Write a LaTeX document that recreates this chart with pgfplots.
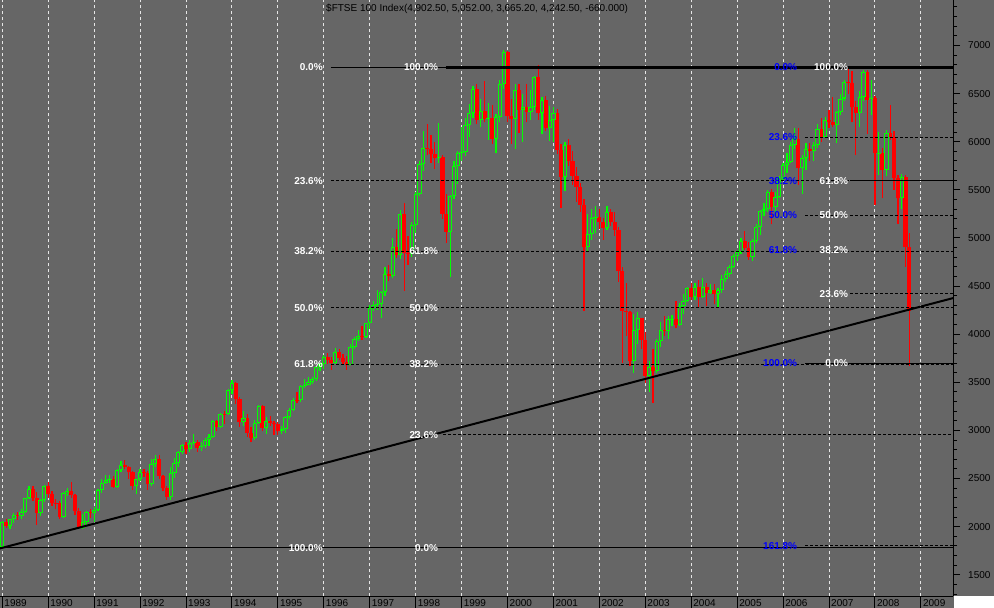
\documentclass[border=0pt]{standalone}
\usepackage{fontspec}
\setmainfont{Liberation Sans}
\usepackage{pgfplots}
\usepackage{pgfplotstable}
\pgfplotsset{compat=1.18}
\definecolor{bg}{RGB}{102,102,102}
\definecolor{upg}{RGB}{0,255,0}
\definecolor{dnr}{RGB}{255,0,0}
\definecolor{gridc}{RGB}{230,230,230}
\definecolor{fibblue}{RGB}{0,0,255}
\newcommand\lbl{\fontsize{10bp}{12bp}\selectfont}

\pgfplotstableread{
yr mo o h l c
1989 1 1793 2060 1782 2052
1989 3 2002 2080 1980 2075
1989 4 2075 2140 2040 2119
1989 6 2107 2180 2080 2152
1989 7 2152 2300 2140 2297
1989 8 2297 2426 2290 2388
1989 11 2142 2290 2110 2276
1989 12 2276 2430 2260 2423
1990 5 2103 2360 2090 2345
1990 6 2345 2400 2320 2375
1990 10 1990 2130 1978 2050
1990 11 2050 2160 2020 2149
1991 1 2144 2200 2050 2170
1991 2 2170 2390 2160 2381
1991 3 2381 2500 2350 2457
1991 4 2457 2540 2440 2487
1991 5 2487 2540 2450 2500
1991 7 2415 2600 2400 2588
1991 8 2588 2680 2570 2645
1991 12 2420 2500 2340 2493
1992 1 2493 2600 2470 2571
1992 4 2440 2700 2420 2654
1992 5 2654 2740 2620 2708
1992 9 2312 2620 2280 2553
1992 10 2553 2710 2510 2658
1992 11 2658 2790 2620 2778
1992 12 2778 2860 2750 2847
1993 2 2807 2900 2780 2868
1993 3 2868 2960 2850 2878
1993 5 2813 2880 2790 2840
1993 6 2840 2920 2820 2900
1993 7 2900 2960 2840 2927
1993 8 2927 3110 2920 3100
1993 10 3038 3180 3030 3171
1993 12 3166 3430 3160 3418
1994 1 3418 3520 3380 3491
1994 4 3086 3200 3050 3125
1994 7 2919 3110 2900 3082
1994 8 3082 3260 3070 3251
1994 10 3026 3140 2960 3097
1995 2 2992 3050 2960 3010
1995 3 3010 3150 2970 3137
1995 4 3137 3230 3120 3216
1995 5 3216 3340 3200 3320
1995 7 3315 3470 3300 3463
1995 8 3463 3530 3440 3477
1995 9 3477 3560 3470 3508
1995 10 3508 3560 3480 3530
1995 11 3530 3670 3510 3664
1995 12 3664 3700 3620 3689
1996 1 3689 3780 3640 3760
1996 4 3699 3860 3690 3818
1996 8 3681 3900 3680 3867
1996 9 3867 3970 3850 3953
1996 10 3953 4040 3930 3980
1996 12 3971 4120 3960 4119
1997 1 4119 4300 4050 4275
1997 2 4275 4350 4240 4308
1997 3 4308 4460 4250 4313
1997 4 4313 4450 4170 4437
1997 5 4437 4700 4400 4621
1997 7 4604 5000 4580 4907
1997 9 4818 5290 4780 5244
1997 12 4831 5170 4800 5136
1998 1 5136 5480 5050 5458
1998 2 5458 5800 5440 5767
1998 3 5767 6110 5700 5932
1998 7 5833 6190 5780 5837
1998 10 5064 5450 4599 5438
1998 11 5438 5800 5400 5743
1998 12 5743 5900 5560 5883
1999 1 5883 6150 5800 5896
1999 2 5896 6250 5850 6175
1999 3 6175 6390 6050 6296
1999 4 6296 6580 6250 6552
1999 6 6226 6440 6150 6318
1999 8 6231 6400 6020 6246
1999 10 6030 6290 5880 6255
1999 11 6255 6640 6200 6597
1999 12 6597 6950 6550 6930
2000 3 6233 6600 5920 6540
2000 5 6327 6500 6000 6359
2000 7 6313 6540 6230 6365
2000 8 6365 6680 6330 6673
2000 10 6294 6460 6080 6438
2000 12 6142 6370 6010 6222
2001 1 6222 6360 6000 6298
2001 4 5634 6000 5490 5967
2001 10 4903 5250 4860 5040
2001 11 5040 5300 4980 5204
2001 12 5204 5330 5050 5217
2002 3 5101 5330 5080 5272
2002 10 3722 4210 3600 4040
2002 11 4040 4230 3900 4169
2003 2 3567 3720 3400 3656
2003 4 3613 3950 3600 3926
2003 5 3926 4130 3870 4048
2003 7 4031 4190 3950 4157
2003 8 4157 4200 4080 4161
2003 10 4091 4320 4080 4288
2003 11 4288 4420 4210 4343
2003 12 4343 4490 4330 4477
2004 2 4390 4530 4360 4492
2004 4 4386 4580 4380 4489
2004 6 4431 4520 4420 4464
2004 8 4413 4480 4280 4459
2004 9 4459 4610 4430 4571
2004 10 4571 4660 4540 4624
2004 11 4624 4720 4590 4703
2004 12 4703 4830 4690 4814
2005 1 4814 4880 4760 4852
2005 2 4852 5000 4830 4968
2005 5 4801 4990 4760 4964
2005 6 4964 5140 4950 5113
2005 7 5113 5290 5030 5282
2005 8 5282 5360 5230 5297
2005 9 5297 5500 5270 5478
2005 11 5317 5480 5260 5423
2005 12 5423 5640 5410 5619
2006 1 5619 5780 5590 5760
2006 2 5760 5880 5680 5792
2006 3 5792 6000 5780 5965
2006 4 5965 6140 5920 6023
2006 6 5723 5860 5460 5833
2006 7 5833 5990 5710 5928
2006 9 5906 6000 5800 5961
2006 10 5961 6180 5930 6129
2006 12 6049 6260 6040 6221
2007 3 6172 6320 5990 6308
2007 4 6308 6500 6280 6449
2007 5 6449 6640 6420 6621
2007 9 6303 6530 6150 6467
2007 10 6467 6750 6420 6722
2007 12 6432 6640 6280 6457
2008 2 5880 6100 5650 5884
2008 4 5702 6120 5640 6087
2008 8 5412 5660 5300 5637
}\upT

\pgfplotstableread{
yr mo o h l c
1989 2 2052 2076 1990 2002
1989 5 2119 2150 2070 2107
1989 9 2388 2420 2270 2300
1989 10 2300 2360 2020 2142
1990 1 2423 2463 2300 2338
1990 2 2338 2370 2220 2249
1990 3 2249 2290 2180 2247
1990 4 2247 2270 2080 2103
1990 7 2375 2460 2300 2326
1990 8 2326 2340 2120 2162
1990 9 2162 2190 1990 1990
1990 12 2149 2180 2090 2144
1991 6 2500 2530 2400 2415
1991 9 2645 2690 2600 2622
1991 10 2622 2630 2500 2566
1991 11 2566 2580 2380 2420
1992 2 2571 2600 2520 2562
1992 3 2562 2580 2380 2440
1992 6 2708 2740 2500 2522
1992 7 2522 2540 2370 2400
1992 8 2400 2420 2281 2312
1993 1 2847 2880 2760 2807
1993 4 2878 2900 2780 2813
1993 9 3100 3110 2990 3038
1993 11 3171 3200 3070 3166
1994 2 3491 3500 3270 3328
1994 3 3328 3350 3040 3086
1994 5 3125 3170 2930 2970
1994 6 2970 3040 2876 2919
1994 9 3251 3260 2990 3026
1994 11 3097 3150 3050 3082
1994 12 3082 3100 2950 3066
1995 1 3066 3090 2954 2992
1995 6 3320 3400 3280 3315
1996 2 3760 3800 3690 3727
1996 3 3727 3760 3630 3699
1996 5 3818 3850 3730 3748
1996 6 3748 3790 3680 3711
1996 7 3711 3770 3630 3681
1996 11 3980 4080 3940 3971
1997 6 4621 4720 4550 4604
1997 8 4907 5090 4790 4818
1997 10 5244 5367 4450 4842
1997 11 4842 5020 4720 4831
1998 4 5932 6180 5860 5928
1998 5 5928 6070 5780 5870
1998 6 5870 6000 5720 5833
1998 8 5837 5860 5200 5249
1998 9 5249 5460 4950 5064
1999 5 6552 6600 6180 6226
1999 7 6318 6630 6200 6231
1999 9 6246 6380 5980 6030
2000 1 6930 6940 6210 6269
2000 2 6269 6440 5980 6233
2000 4 6540 6600 6090 6327
2000 6 6359 6600 6200 6313
2000 9 6673 6800 6230 6294
2000 11 6438 6470 6110 6142
2001 2 6298 6340 5870 5918
2001 3 5918 5980 5310 5634
2001 5 5967 6030 5750 5796
2001 6 5796 5900 5550 5643
2001 7 5643 5740 5370 5529
2001 8 5529 5570 5270 5345
2001 9 5345 5400 4240 4903
2002 1 5217 5300 5090 5165
2002 2 5165 5210 4980 5101
2002 4 5272 5300 5120 5166
2002 5 5166 5270 5020 5086
2002 6 5086 5110 4540 4656
2002 7 4656 4700 3700 4246
2002 8 4246 4530 3980 4227
2002 9 4227 4240 3670 3722
2002 12 4169 4170 3850 3940
2003 1 3940 4020 3490 3567
2003 3 3656 3850 3290 3613
2003 6 4048 4190 3980 4031
2003 9 4161 4340 4060 4091
2004 1 4477 4530 4360 4390
2004 3 4492 4560 4280 4386
2004 5 4489 4530 4290 4431
2004 7 4464 4520 4310 4413
2005 3 4968 5070 4880 4894
2005 4 4894 4960 4770 4801
2005 10 5478 5510 5140 5317
2006 5 6023 6140 5550 5723
2006 8 5928 5990 5800 5906
2006 11 6129 6250 6000 6049
2007 1 6221 6330 6140 6203
2007 2 6203 6460 6150 6172
2007 6 6621 6754 6500 6608
2007 7 6608 6730 6200 6360
2007 8 6360 6420 5860 6303
2007 11 6722 6740 6080 6432
2008 1 6457 6480 5340 5880
2008 3 5884 5930 5410 5702
2008 5 6087 6380 6020 6054
2008 6 6054 6110 5500 5626
2008 7 5626 5650 5150 5412
2008 9 5637 5650 4700 4902
2008 10 4902.5 5052 3665.2 4242.5
}\dnT

\begin{document}
\begin{tikzpicture}[x=1bp,y=1bp]
\useasboundingbox (0,0) rectangle (994,608);
\fill[bg] (0,0) rectangle (994,608);
\fill[white] (953.5,0) rectangle (994,11.5);
\begin{axis}[
  at={(0,12)}, anchor=south west, scale only axis,
  width=953bp, height=596bp,
  xmin=1988.95, xmax=2009.7, ymin=1275, ymax=7468,
  axis x line=bottom, hide y axis,
  axis line style={-, black, line width=1bp},
  every outer x axis line/.append style={-},
  tick align=outside, major tick length=12bp,
  tick style={black, line width=1bp},
  xtick={1989,1990,...,2009},
  xticklabels={1989,1990,1991,1992,1993,1994,1995,1996,1997,1998,1999,2000,2001,2002,2003,2004,2005,2006,2007,2008,2009},
  xticklabel style={anchor=west, inner sep=0pt, xshift=2bp, yshift=5bp, font=\lbl, text=black},
  xmajorgrids,
  major grid style={gridc, dash pattern=on 3bp off 3bp, line width=1bp},
  clip=true,
]
% wicks
\addplot[draw=none, mark=none, forget plot,
  error bars/.cd, y dir=plus, y explicit, error mark=none,
  error bar style={line width=1.2bp, upg}]
  table[x expr=\thisrow{yr}+(\thisrow{mo}-1)/12, y=l, y error expr=\thisrow{h}-\thisrow{l}] {\upT};
\addplot[draw=none, mark=none, forget plot,
  error bars/.cd, y dir=plus, y explicit, error mark=none,
  error bar style={line width=1.2bp, dnr}]
  table[x expr=\thisrow{yr}+(\thisrow{mo}-1)/12, y=l, y error expr=\thisrow{h}-\thisrow{l}] {\dnT};
% bodies
\addplot[draw=none, mark=none, forget plot,
  error bars/.cd, y dir=plus, y explicit, error mark=none,
  error bar style={line width=4.2bp, dnr}]
  table[x expr=\thisrow{yr}+(\thisrow{mo}-1)/12, y=c, y error expr=\thisrow{o}-\thisrow{c}] {\dnT};
\addplot[draw=none, mark=none, forget plot,
  error bars/.cd, y dir=plus, y explicit, error mark=none,
  error bar style={line width=4.2bp, upg}]
  table[x expr=\thisrow{yr}+(\thisrow{mo}-1)/12, y=o, y error expr=\thisrow{c}-\thisrow{o}] {\upT};
\addplot[draw=none, mark=none, forget plot,
  error bars/.cd, y dir=plus, y explicit, error mark=none,
  error bar style={line width=2.2bp, bg}]
  table[x expr=\thisrow{yr}+(\thisrow{mo}-1)/12, y expr=\thisrow{o}+10.4, y error expr={max(\thisrow{c}-\thisrow{o}-20.8,0)}] {\upT};

% Fibonacci level lines
\addplot[black, line width=1bp] coordinates {(1996.16,6771) (1998.66,6771)};
\addplot[black, line width=2.2bp] coordinates {(1998.66,6771) (2009.8,6771)};
\addplot[black, line width=1bp, dash pattern=on 3bp off 2bp] coordinates {(1996.16,5593) (2009.8,5593)};
\addplot[black, line width=1bp] coordinates {(2007.46,5593) (2009.8,5593)};
\addplot[black, line width=1bp, dash pattern=on 3bp off 2bp] coordinates {(1996.16,4864) (2009.8,4864)};
\addplot[black, line width=1bp, dash pattern=on 3bp off 2bp] coordinates {(1996.16,4275) (2009.8,4275)};
\addplot[black, line width=1bp, dash pattern=on 3bp off 2bp] coordinates {(1996.16,3690) (2009.8,3690)};
\addplot[black, line width=1bp] coordinates {(2006.48,3693) (2009.8,3693)};
\addplot[black, line width=1bp, dash pattern=on 3bp off 2bp] coordinates {(1998.60,2957) (2009.8,2957)};
\addplot[black, line width=1bp] coordinates {(1988.9,1779) (2009.8,1779)};
\addplot[black, line width=1bp, dash pattern=on 3bp off 2bp] coordinates {(2006.48,1800) (2009.8,1800)};
\addplot[black, line width=1bp, dash pattern=on 3bp off 2bp] coordinates {(2006.48,6045) (2009.8,6045)};
\addplot[black, line width=1bp, dash pattern=on 3bp off 2bp] coordinates {(2006.48,5233) (2009.8,5233)};
\addplot[black, line width=1bp, dash pattern=on 3bp off 2bp] coordinates {(2007.46,4422) (2009.8,4422)};
% trend line
\addplot[black, line width=2bp] coordinates {(1988.95,1774) (2009.7,4375)};

% level labels
\begin{scope}[every node/.style={font=\lbl\bfseries, inner sep=0pt, anchor=east}]
\node[text=white] at (axis cs:1995.98,6771) {0.0\%};
\node[text=white] at (axis cs:1995.98,5593) {23.6\%};
\node[text=white] at (axis cs:1995.98,4864) {38.2\%};
\node[text=white] at (axis cs:1995.98,4275) {50.0\%};
\node[text=white] at (axis cs:1995.98,3686) {61.8\%};
\node[text=white] at (axis cs:1995.98,1779) {100.0\%};
\node[text=white] at (axis cs:1998.49,6771) {100.0\%};
\node[text=white] at (axis cs:1998.49,4864) {61.8\%};
\node[text=white] at (axis cs:1998.49,4275) {50.0\%};
\node[text=white] at (axis cs:1998.49,3686) {38.2\%};
\node[text=white] at (axis cs:1998.49,2957) {23.6\%};
\node[text=white] at (axis cs:1998.49,1779) {0.0\%};
\node[text=fibblue] at (axis cs:2006.31,6771) {0.0\%};
\node[text=fibblue] at (axis cs:2006.31,6045) {23.6\%};
\node[text=fibblue] at (axis cs:2006.31,5596) {38.2\%};
\node[text=fibblue] at (axis cs:2006.31,5233) {50.0\%};
\node[text=fibblue] at (axis cs:2006.31,4871) {61.8\%};
\node[text=fibblue] at (axis cs:2006.31,3696) {100.0\%};
\node[text=fibblue] at (axis cs:2006.31,1800) {161.8\%};
\node[text=white] at (axis cs:2007.42,6771) {100.0\%};
\node[text=white] at (axis cs:2007.42,5596) {61.8\%};
\node[text=white] at (axis cs:2007.42,5233) {50.0\%};
\node[text=white] at (axis cs:2007.42,4871) {38.2\%};
\node[text=white] at (axis cs:2007.42,4422) {23.6\%};
\node[text=white] at (axis cs:2007.42,3696) {0.0\%};
\end{scope}
\end{axis}

\begin{axis}[
  at={(0,12)}, anchor=south west, scale only axis,
  width=953bp, height=596bp,
  xmin=1988.95, xmax=2009.7, ymin=1275, ymax=7468,
  hide x axis, axis y line=right,
  axis line style={-, black, line width=1bp},
  every outer y axis line/.append style={-},
  tick align=outside, major tick length=7bp, minor tick length=4bp,
  tick style={black, line width=1bp},
  ytick={1500,2000,...,7000},
  yticklabels={1500,2000,2500,3000,3500,4000,4500,5000,5500,6000,6500,7000},
  minor ytick={1300,1400,...,7400},
  yticklabel style={anchor=west, inner sep=0pt, xshift=8bp, font=\lbl, text=black},
]
\end{axis}

\node[anchor=west, inner sep=0pt, font=\lbl, text=black] at (326,599) {\$FTSE 100 Index(4,902.50, 5,052.00, 3,665.20, 4,242.50, -660.000)};
\end{tikzpicture}
\end{document}
